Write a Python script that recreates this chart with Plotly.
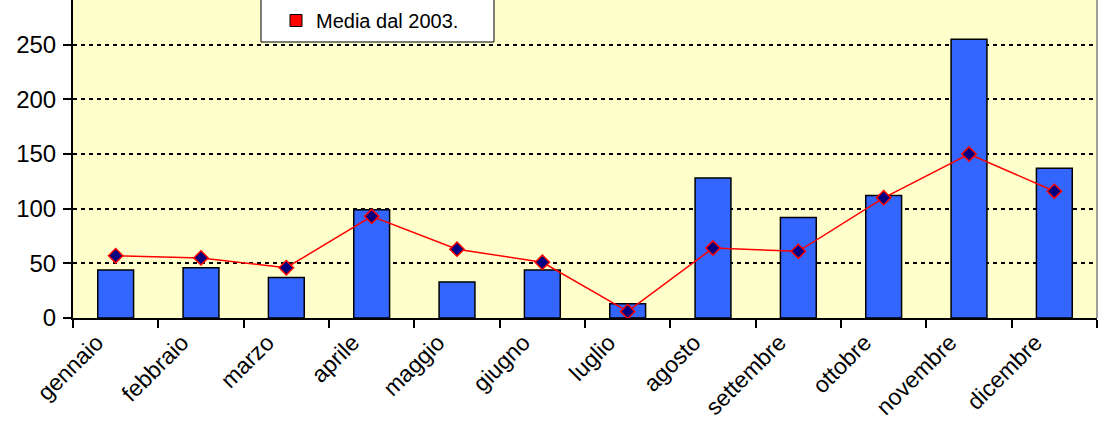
import plotly.graph_objects as go

months = ["gennaio", "febbraio", "marzo", "aprile", "maggio", "giugno",
          "luglio", "agosto", "settembre", "ottobre", "novembre", "dicembre"]
monthly_values = [44, 46, 37, 99, 33, 44, 13, 128, 92, 112, 255, 137]
average_values = [57, 55, 46, 93, 63, 51, 6, 64, 61, 110, 150, 116]
average_name = "Media dal 2003."
y_ticks = [0, 50, 100, 150, 200, 250]

FONT = "Liberation Sans, Arial, sans-serif"
Y_RANGE = [0, 291]
boundaries = [i - 0.5 for i in range(len(months) + 1)]

fig = go.Figure()

fig.add_trace(go.Bar(
    x=months, y=monthly_values, width=0.42,
    marker=dict(color="#3366FF", line=dict(color="black", width=1.5)),
    showlegend=False,
))

fig.add_trace(go.Scatter(
    x=months, y=average_values, mode="lines+markers",
    line=dict(color="#FF0000", width=1.5),
    marker=dict(symbol="diamond", size=11, color="#000080",
                line=dict(color="#FF0000", width=1.5)),
    showlegend=False,
))

# legend entry (red box swatch as in the original)
fig.add_trace(go.Bar(
    x=months, y=[None] * len(months), name=average_name,
    marker=dict(color="#FF0000", line=dict(color="black", width=1)),
    showlegend=True,
))

fig.update_layout(
    width=1102, height=422,
    margin=dict(l=73, r=5, t=0, b=104, autoexpand=False),
    paper_bgcolor="white", plot_bgcolor="#FFFFCC",
    barmode="overlay",
    font=dict(family=FONT, size=20, color="black"),
    legend=dict(x=(276 - 73) / 1024, xanchor="left", y=(318 - 40) / 318, yanchor="bottom",
                bgcolor="rgba(0,0,0,0)", borderwidth=0,
                font=dict(family=FONT, size=20, color="black")),
    xaxis=dict(type="category", range=[-0.5, 11.5], tickson="boundaries",
               ticks="outside", ticklen=8, tickwidth=2, tickcolor="black",
               showline=True, linecolor="black", linewidth=2,
               showgrid=False, tickangle=-45, ticklabelstandoff=0,
               ticklabelshift=-19,
               tickfont=dict(family=FONT, size=23, color="black")),
    yaxis=dict(range=Y_RANGE, tickvals=y_ticks, ticks="outside", ticklen=8,
               tickwidth=2, tickcolor="black",
               showline=True, linecolor="black", linewidth=2,
               showgrid=True, gridcolor="black", gridwidth=1.5, griddash="4px,4px",
               zeroline=False, ticklabelstandoff=2,
               tickfont=dict(family=FONT, size=24, color="black")),
    xaxis2=dict(overlaying="x", anchor="y", side="bottom", range=[-0.5, 11.5],
                tickvals=boundaries, ticks="inside", ticklen=9, tickwidth=2,
                tickcolor="black", showticklabels=False, showgrid=False,
                zeroline=False, showline=False),
    yaxis2=dict(overlaying="y", anchor="x", side="left", range=Y_RANGE,
                tickvals=y_ticks, ticks="inside", ticklen=9, tickwidth=2,
                tickcolor="black", showticklabels=False, showgrid=False,
                zeroline=False, showline=False),
    shapes=[
        dict(type="line", xref="x domain", yref="y domain", x0=1, x1=1, y0=0, y1=1,
             line=dict(color="#808080", width=1.5), layer="above"),
        dict(type="rect", xref="paper", yref="paper",
             x0=(261 - 73) / 1024, x1=(494 - 73) / 1024,
             y0=(318 - 42) / 318, y1=1.2,
             fillcolor="white", line=dict(color="black", width=1), layer="above"),
    ],
)

fig.write_html("out.html", config={"displayModeBar": False},
               post_script="document.body.style.margin='0';")
